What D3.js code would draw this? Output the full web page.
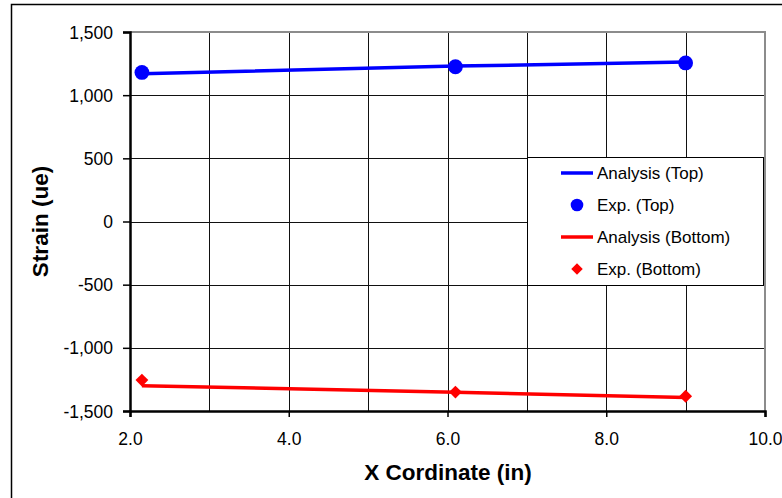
<!DOCTYPE html>
<html>
<head>
<meta charset="utf-8">
<script src="https://cdn.jsdelivr.net/npm/d3@7"></script>
<style>
  body { margin: 0; background: #fff; }
  svg { display: block; font-family: Arial, "Liberation Sans", sans-serif; }
</style>
</head>
<body>
<svg id="chart" width="782" height="498"></svg>
<script>
// data
const xPos = [2.15, 6.1, 9.0];
const analysisTop = [1170, 1230, 1262];
const expTop = [1180, 1225, 1255];
const analysisBottom = [-1300, -1352, -1393];
const expBottom = [-1255, -1350, -1383];

const xTicks = [2, 4, 6, 8, 10];
const xGrid = [3, 4, 5, 6, 7, 8, 9];
const yTicks = [-1500, -1000, -500, 0, 500, 1000, 1500];

const legendItems = [
  { label: "Analysis (Top)", color: "#0000ff", kind: "line" },
  { label: "Exp. (Top)", color: "#0000ff", kind: "circle" },
  { label: "Analysis (Bottom)", color: "#ff0000", kind: "line" },
  { label: "Exp. (Bottom)", color: "#ff0000", kind: "diamond" },
];

const svg = d3.select("#chart");
const plotL = 130, plotR = 765, plotT = 32, plotB = 411;

const x = d3.scaleLinear().domain([2, 10]).range([plotL, plotR]);
const y = d3.scaleLinear().domain([-1500, 1500]).range([plotB, plotT]);

// outer chart frame (cut off at right/bottom like the original)
svg.append("path")
  .attr("d", `M11.5,${498 + 2} V4.5 H${782 + 2}`)
  .attr("fill", "none")
  .attr("stroke", "#000")
  .attr("stroke-width", 1.5);

// grid
const grid = svg.append("g");
grid.selectAll("line.v").data(xGrid).join("line")
  .attr("x1", d => Math.round(x(d)) + 0.5).attr("x2", d => Math.round(x(d)) + 0.5)
  .attr("y1", plotT).attr("y2", plotB)
  .attr("stroke", "#111").attr("stroke-width", 1);
grid.selectAll("line.h").data(yTicks.slice(1, -1)).join("line")
  .attr("y1", d => Math.round(y(d)) + 0.5).attr("y2", d => Math.round(y(d)) + 0.5)
  .attr("x1", plotL).attr("x2", plotR)
  .attr("stroke", "#111").attr("stroke-width", 1);

// plot area border top/right (gray)
svg.append("path")
  .attr("d", `M${plotL},${plotT} H${plotR} V${plotB}`)
  .attr("fill", "none")
  .attr("stroke", "#8c8c8c")
  .attr("stroke-width", 2);

// axes
const fmtY = v => d3.format(",")(v).replace("\u2212", "-");
const xAxis = svg.append("g")
  .attr("transform", `translate(0,${plotB})`)
  .call(d3.axisBottom(x).tickValues(xTicks).tickFormat(d3.format(".1f")).tickSize(6).tickPadding(16));
const yAxis = svg.append("g")
  .attr("transform", `translate(${plotL},0)`)
  .call(d3.axisLeft(y).tickValues(yTicks).tickFormat(fmtY).tickSize(7).tickPadding(10));

[xAxis, yAxis].forEach(a => {
  a.attr("font-size", null);
  a.select(".domain").attr("stroke", "#000").attr("stroke-width", 2.5);
  a.selectAll(".tick line").attr("stroke", "#000").attr("stroke-width", 1.5);
  a.selectAll(".tick text")
    .attr("fill", "#000")
    .style("font-size", "17.5px")
    .style("font-family", "Arial, 'Liberation Sans', sans-serif");
});
yAxis.selectAll(".tick text").attr("dy", "0.35em");

// axis titles
svg.append("text")
  .attr("x", (plotL + plotR) / 2 + 0.5)
  .attr("y", 480)
  .attr("text-anchor", "middle")
  .style("font-size", "22.5px")
  .style("font-weight", "bold")
  .text("X Cordinate (in)");
svg.append("text")
  .attr("transform", `translate(48,${(plotT + plotB) / 2}) rotate(-90)`)
  .attr("text-anchor", "middle")
  .style("font-size", "22.5px")
  .style("font-weight", "bold")
  .text("Strain (ue)");

// series
const line = d3.line().x(d => x(d[0])).y(d => y(d[1]));
const plot = svg.append("g");

plot.append("path")
  .datum(d3.zip(xPos, analysisTop))
  .attr("d", line)
  .attr("fill", "none").attr("stroke", "#0000ff").attr("stroke-width", 3.5);
plot.append("path")
  .datum(d3.zip(xPos, analysisBottom))
  .attr("d", line)
  .attr("fill", "none").attr("stroke", "#ff0000").attr("stroke-width", 3.5);

plot.selectAll("circle.exp").data(d3.zip(xPos, expTop)).join("circle")
  .attr("cx", d => x(d[0])).attr("cy", d => y(d[1]))
  .attr("r", 7.4)
  .attr("fill", "#0000ff");

const diamond = d3.symbol().type(d3.symbolDiamond2).size(105);
plot.selectAll("path.exp").data(d3.zip(xPos, expBottom)).join("path")
  .attr("d", diamond)
  .attr("transform", d => `translate(${x(d[0])},${y(d[1])})`)
  .attr("fill", "#ff0000");

// legend
const lg = svg.append("g");
lg.append("rect")
  .attr("x", 527.5).attr("y", 157.5)
  .attr("width", 236).attr("height", 128)
  .attr("fill", "#fff")
  .attr("stroke", "#000").attr("stroke-width", 1);

const rowY = d3.scalePoint().domain(legendItems.map(d => d.label)).range([173, 269]);
const items = lg.selectAll("g.item").data(legendItems).join("g")
  .attr("transform", d => `translate(0,${rowY(d.label)})`);

items.filter(d => d.kind === "line").append("line")
  .attr("x1", 561).attr("x2", 593)
  .attr("stroke", d => d.color).attr("stroke-width", 3.5);
items.filter(d => d.kind === "circle").append("circle")
  .attr("cx", 577).attr("r", 6.3)
  .attr("fill", d => d.color);
items.filter(d => d.kind === "diamond").append("path")
  .attr("d", d3.symbol().type(d3.symbolDiamond2).size(85))
  .attr("transform", "translate(577,0)")
  .attr("fill", d => d.color);
items.append("text")
  .attr("x", 597).attr("dy", "0.35em")
  .style("font-size", "17px")
  .text(d => d.label);
</script>
</body>
</html>
